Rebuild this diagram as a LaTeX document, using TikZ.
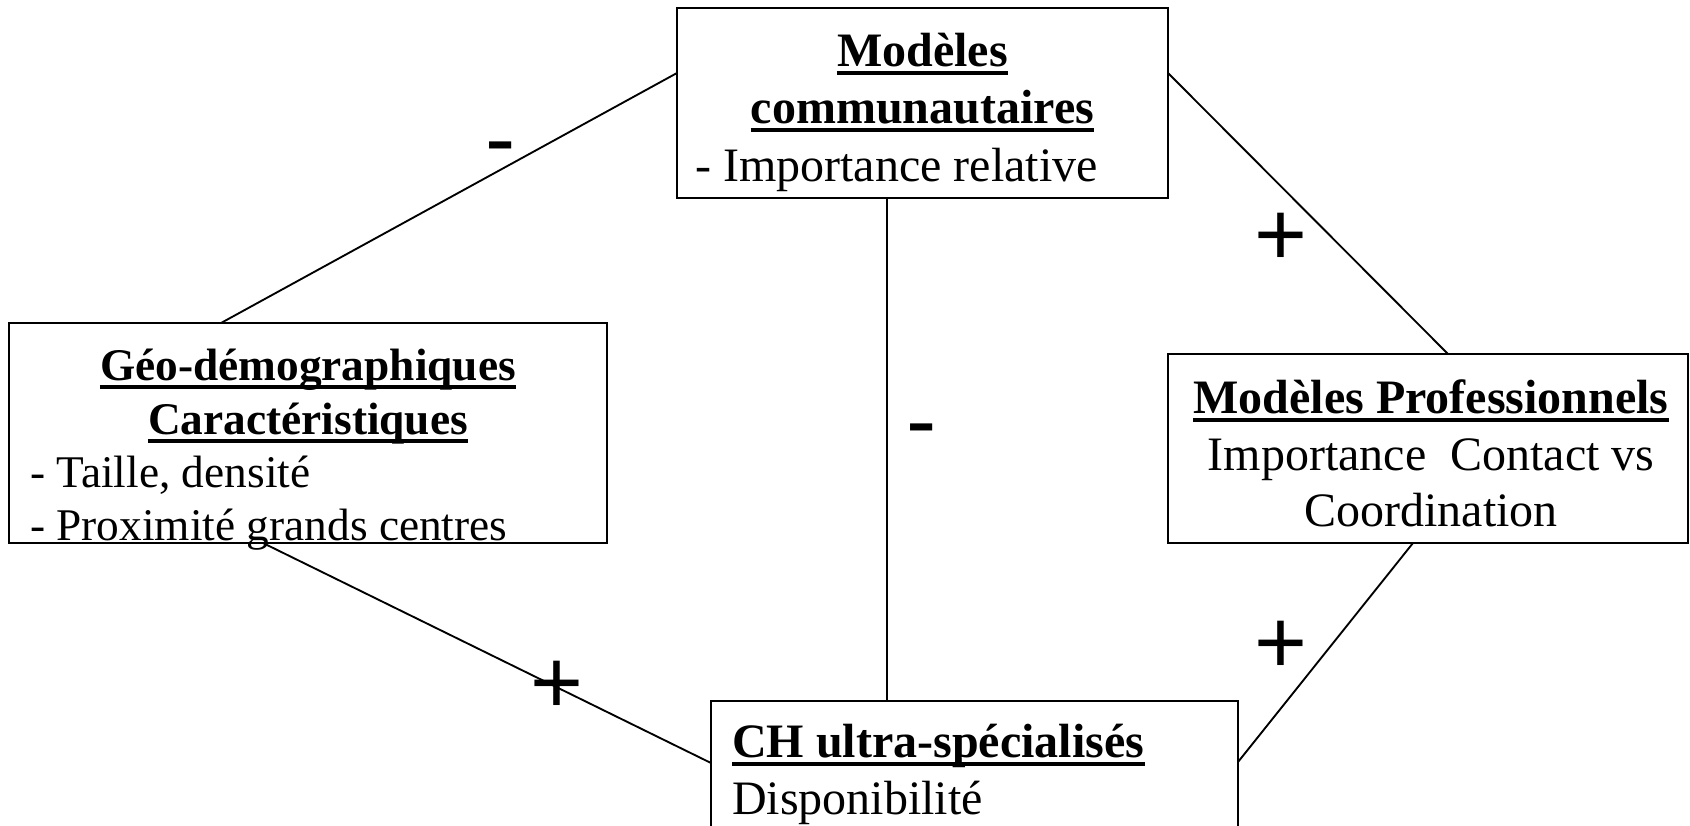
\documentclass[tikz,border=0pt]{standalone}
\usepackage{fontspec}
\setmainfont{Liberation Serif}
\newfontfamily\signfont{Liberation Sans}
\usetikzlibrary{calc}
\begin{document}
\begin{tikzpicture}[x=0.75pt,y=-0.75pt,
  box/.style={draw,line width=1.4pt,inner sep=0pt,outer sep=0pt},
  link/.style={line width=1.4pt},
  txt/.style={inner sep=0pt,font=\fontsize{36}{43}\selectfont},
  smalltxt/.style={inner sep=0pt,font=\fontsize{34}{41}\selectfont},
  ul/.style={line width=3.2pt,line cap=butt},
  sign/.style={inner sep=0pt,anchor=base,font=\signfont\fontsize{68}{80}\selectfont}]
\clip (0,0) rectangle (1690,825);
% boxes
\node[box,minimum width=491*0.75pt,minimum height=190*0.75pt] (top) at (922.5,103) {};
\node[box,minimum width=598*0.75pt,minimum height=220*0.75pt] (left) at (308,433) {};
\node[box,minimum width=520*0.75pt,minimum height=189*0.75pt] (right) at (1428,448.5) {};
\node[box,minimum width=527*0.75pt,minimum height=199*0.75pt] (bot) at (974.5,800.5) {};
% top box text
\node[txt,anchor=base] (t1) at (922.5,66) {\textbf{Modèles}};
\node[txt,anchor=base] (t2) at (922.5,123) {\textbf{communautaires}};
\node[txt,anchor=base west] (t3) at (695,181) {- Importance relative};
% left box text
\node[smalltxt,anchor=base] (l1) at (308,380) {\textbf{Géo-démographiques}};
\node[smalltxt,anchor=base] (l2) at (308,434) {\textbf{Caractéristiques}};
\node[smalltxt,anchor=base west] (l3) at (30,487) {- Taille, densité};
\node[smalltxt,anchor=base west] (l4) at (30,540) {- Proximité grands centres};
% right box text
\node[txt,anchor=base] (r1) at (1431,413) {\textbf{Modèles Professionnels}};
\node[txt,anchor=base] (r2) at (1431,470) {Importance\ \ Contact vs};
\node[txt,anchor=base] (r3) at (1431,526) {Coordination};
% bottom box text
\node[txt,anchor=base west] (b1) at (732,757) {\textbf{CH ultra-spécialisés}};
\node[txt,anchor=base west] (b2) at (732,814) {Disponibilité};
% underlines
\foreach \n in {t1,t2,l1,l2,r1,b1}{
  \draw[ul] ([yshift=-5.25pt]\n.base west) -- ([yshift=-5.25pt]\n.base east);
}
% connectors
\draw[link] ($(top.north west)+(0,65)$) -- ($(left.north west)+(212,0)$);
\draw[link] ($(top.north east)+(0,65)$) -- ($(right.north west)+(280,0)$);
\draw[link] ($(top.south west)+(210,0)$) -- ($(bot.north west)+(176,0)$);
\draw[link] ($(left.south west)+(254,0)$) -- ($(bot.north west)+(0,62)$);
\draw[link] ($(right.south west)+(245,0)$) -- ($(bot.north east)+(0,61)$);
% signs
\node[sign] (s1) at (501,169) {-};
\node[sign] (s2) at (922,451) {-};
\node[sign] (s3) at (1281,265) {+};
\node[sign] (s4) at (557,713) {+};
\node[sign] (s5) at (1281,673) {+};
\end{tikzpicture}
\end{document}
